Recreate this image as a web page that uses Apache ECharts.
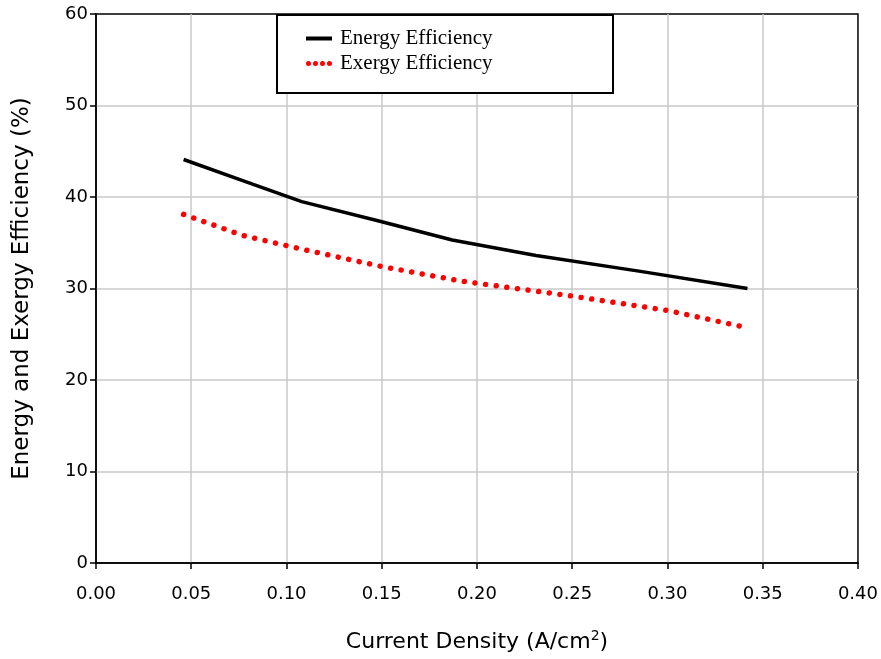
<!DOCTYPE html>
<html>
<head>
<meta charset="utf-8">
<script src="https://cdn.jsdelivr.net/npm/echarts@6/dist/echarts.min.js"></script>
<style>
  html, body { margin: 0; padding: 0; background: #fff; }
  #chart { width: 881px; height: 659px; }
</style>
</head>
<body>
<div id="chart"></div>
<script>
// Current density (A/cm2) and efficiency (%) for each curve
const energyDensity = [0.046, 0.077, 0.108, 0.148, 0.187, 0.231, 0.285, 0.342];
const energyEfficiency = [44.1, 41.8, 39.5, 37.4, 35.3, 33.6, 31.9, 30.0];
const exergyDensity = [0.046, 0.077, 0.108, 0.150, 0.192, 0.249, 0.300, 0.340];
const exergyEfficiency = [38.1, 35.8, 34.3, 32.4, 30.8, 29.2, 27.6, 25.8];

const xTicks = ['0.00', '0.05', '0.10', '0.15', '0.20', '0.25', '0.30', '0.35', '0.40'];
const yTicks = ['0', '10', '20', '30', '40', '50', '60'];
const seriesNames = ['Energy Efficiency', 'Exergy Efficiency'];

const pairs = (xs, ys) => xs.map((x, i) => [x, ys[i]]);

// legend keys: a solid bar and a row of four dots
const dot = (cx) => 'M' + cx + ',2.5a2.5,2.5 0 1,0 5,0a2.5,2.5 0 1,0 -5,0';
const barIcon = 'path://M0,0.5L26,0.5L26,4.5L0,4.5Z';
const dotsIcon = 'path://' + [0, 7, 14, 21].map(dot).join('');

const chart = echarts.init(document.getElementById('chart'), null, { renderer: 'canvas' });

const sans = '"DejaVu Sans", Verdana, sans-serif';
const gridLine = { show: true, showMinLine: false, showMaxLine: false, lineStyle: { color: '#c8c8c8', width: 1.5 } };

chart.setOption({
  animation: false,
  backgroundColor: '#fff',
  grid: {
    left: 96, right: 20, top: 14, bottom: 96,
    show: true, borderColor: '#000', borderWidth: 1.5
  },
  xAxis: {
    type: 'value',
    min: 0, max: 0.4, interval: 0.05,
    name: 'Current Density (A/cm{sup|2})',
    nameLocation: 'middle',
    nameGap: 66,
    nameTextStyle: {
      fontFamily: sans, fontSize: 22, color: '#000',
      rich: { sup: { fontFamily: sans, fontSize: 14, color: '#000', verticalAlign: 'top', padding: [0, 0, 12, 0] } }
    },
    axisLine: { show: true, onZero: false, lineStyle: { color: '#000', width: 1.5 } },
    axisTick: { show: true, inside: false, length: 6, lineStyle: { color: '#000', width: 1.5 } },
    axisLabel: {
      fontFamily: sans, fontSize: 18, color: '#000', margin: 22,
      formatter: (v) => xTicks[Math.round(v / 0.05)]
    },
    splitLine: gridLine
  },
  yAxis: {
    type: 'value',
    min: 0, max: 60, interval: 10,
    name: 'Energy and Exergy Efficiency (%)',
    nameLocation: 'middle',
    nameGap: 62,
    nameTextStyle: { fontFamily: sans, fontSize: 23, color: '#000' },
    axisLine: { show: true, onZero: false, lineStyle: { color: '#000', width: 1.5 } },
    axisTick: { show: true, inside: false, length: 6, lineStyle: { color: '#000', width: 1.5 } },
    axisLabel: {
      fontFamily: sans, fontSize: 18, color: '#000', margin: 8,
      formatter: (v) => yTicks[Math.round(v / 10)]
    },
    splitLine: gridLine
  },
  legend: {
    left: 301, top: 23,
    z: 10,
    orient: 'vertical',
    itemWidth: 26, itemHeight: 5, itemGap: 4,
    textStyle: { fontFamily: '"Liberation Serif", "Times New Roman", serif', fontSize: 21, color: '#000', padding: [0, 0, 0, 3] },
    data: [
      { name: seriesNames[0], icon: barIcon, itemStyle: { color: '#000' } },
      { name: seriesNames[1], icon: dotsIcon, itemStyle: { color: '#ff0000' } }
    ]
  },
  graphic: [{
    type: 'rect',
    left: 276, top: 14,
    shape: { width: 336, height: 78 },
    style: { fill: '#fff', stroke: '#000', lineWidth: 2 },
    z: 4
  }],
  series: [
    {
      name: seriesNames[0],
      type: 'line',
      data: pairs(energyDensity, energyEfficiency),
      showSymbol: false,
      symbol: 'none',
      z: 3,
      lineStyle: { color: '#000', width: 3.5, type: 'solid' },
      itemStyle: { color: '#000' }
    },
    {
      name: seriesNames[1],
      type: 'line',
      data: pairs(exergyDensity, exergyEfficiency),
      showSymbol: false,
      symbol: 'none',
      z: 3,
      lineStyle: { color: '#ff0000', width: 5.5, type: [0.01, 10.7], cap: 'round' },
      itemStyle: { color: '#ff0000' }
    }
  ]
});
</script>
</body>
</html>
